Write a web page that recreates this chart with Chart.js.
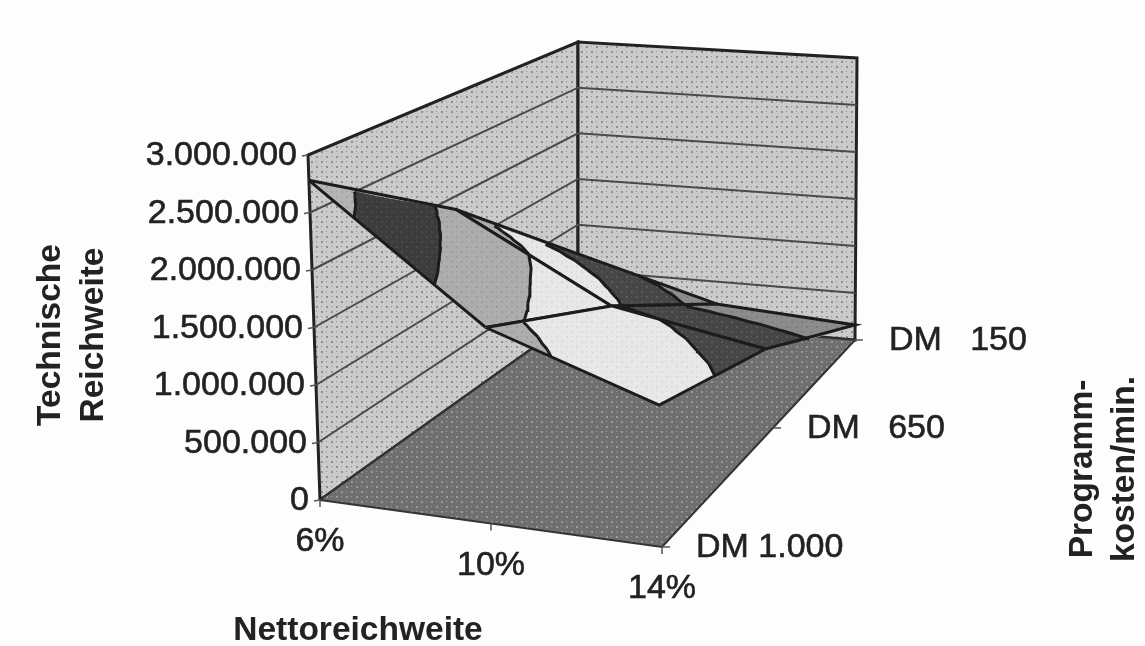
<!DOCTYPE html>
<html>
<head>
<meta charset="utf-8">
<title>Technische Reichweite</title>
<script src="https://cdn.jsdelivr.net/npm/chart.js@4/dist/chart.umd.min.js"></script>
<style>
  html, body { margin: 0; padding: 0; background: #fdfdfd; }
  #chart { display: block; filter: blur(0.6px); }
</style>
</head>
<body>
<canvas id="chart" width="1145" height="646"></canvas>
<script>
// values
const netReach = ['6%', '10%', '14%'];
const programCost = ['DM 1.000', 'DM   650', 'DM   150'];
const reachTicks = [0, 500000, 1000000, 1500000, 2000000, 2500000, 3000000];
const reachLabels = ['0', '500.000', '1.000.000', '1.500.000', '2.000.000', '2.500.000', '3.000.000'];
const reachAtDm1000 = [2780000, 1680000, 1200000];
const reachAtDm650 = [1870000, 1080000, 820000];
const reachAtDm150 = [680000, 260000, 160000];
const bandLimits = [0, 500000, 1000000, 1500000, 2000000, 2500000, 3000000];

const reachMax = 3000000;
const rows = [reachAtDm1000, reachAtDm650, reachAtDm150];
const rowDepth = [0, 0.54, 1];
const tickDepth = [0, 0.575, 1];
const colPos = [0, 0.5, 1];

// box corners on the page, [across][depth][height]
const box = {
  '000': [320, 500], '100': [662, 547], '010': [578, 316], '110': [855, 340],
  '001': [308, 155], '101': [655, 192], '011': [578, 42], '111': [857, 58]
};

function project(i, j, k) {
  let x = 0, y = 0;
  for (const a of [0, 1]) for (const b of [0, 1]) for (const c of [0, 1]) {
    const w = (a ? i : 1 - i) * (b ? j : 1 - j) * (c ? k : 1 - k);
    x += w * box['' + a + b + c][0];
    y += w * box['' + a + b + c][1];
  }
  return { x, y };
}

function halftone(base, dot) {
  const tile = document.createElement('canvas');
  tile.width = 10;
  tile.height = 10;
  const c = tile.getContext('2d');
  c.fillStyle = base;
  c.fillRect(0, 0, 10, 10);
  c.fillStyle = dot;
  c.fillRect(1, 1, 2, 2);
  c.fillRect(6, 6, 2, 2);
  c.fillRect(6, 1, 1, 1);
  c.fillRect(1, 6, 1, 1);
  return c.createPattern(tile, 'repeat');
}

const wallFill = halftone('#cbcbcb', '#8f8f8f');
const floorFill = halftone('#6f6f6f', '#9a9a9a');
const bandFill = [
  halftone('#8c8c8c', '#7c7c7c'),
  halftone('#464646', '#5c5c5c'),
  halftone('#e8e8e8', '#dadada'),
  halftone('#adadad', '#9c9c9c'),
  halftone('#3c3c3c', '#4c4c4c'),
  halftone('#b4b4b4', '#a2a2a2')
];

const datasets = [];

function polygon(points, fill, line, width) {
  datasets.push({
    data: [...points, points[0]],
    showLine: true, fill: 'shape', tension: 0, pointRadius: 0,
    backgroundColor: fill, borderColor: line, borderWidth: width
  });
}

function stroke(points, color, width) {
  datasets.push({
    data: points, showLine: true, fill: false, tension: 0, pointRadius: 0,
    borderColor: color, borderWidth: width, spanGaps: false
  });
}

// walls and floor
polygon([project(0, 0, 0), project(0, 1, 0), project(0, 1, 1), project(0, 0, 1)], wallFill, '#222', 3);
polygon([project(0, 1, 0), project(1, 1, 0), project(1, 1, 1), project(0, 1, 1)], wallFill, '#222', 3);
polygon([project(0, 0, 0), project(1, 0, 0), project(1, 1, 0), project(0, 1, 0)], floorFill, '#333', 2);

// gridlines and ticks
reachTicks.forEach(t => {
  const k = t / reachMax;
  if (t > 0 && t < reachMax) {
    stroke([project(0, 0, k), project(0, 1, k), project(1, 1, k)], '#4a4a4a', 2);
  }
  const p = project(0, 0, k);
  stroke([{ x: p.x - 6, y: p.y + 1 }, p], '#555', 1.5);
});
colPos.forEach(i => {
  const p = project(i, 0, 0);
  stroke([p, { x: p.x, y: p.y + 7 }], '#555', 1.5);
});
tickDepth.forEach(j => {
  const p = project(1, j, 0);
  stroke([p, { x: p.x + 8, y: p.y }], '#555', 1.5);
});

// surface, cut into the 500.000 bands, back to front
function clip(poly, level, keepAbove) {
  const out = [];
  poly.forEach((a, n) => {
    const b = poly[(n + 1) % poly.length];
    const aIn = keepAbove ? a.z >= level : a.z <= level;
    const bIn = keepAbove ? b.z >= level : b.z <= level;
    if (aIn) out.push(a);
    if (aIn !== bIn) {
      const t = (level - a.z) / (b.z - a.z);
      out.push({ i: a.i + t * (b.i - a.i), j: a.j + t * (b.j - a.j), z: level });
    }
  });
  return out;
}

const toPage = v => project(v.i, v.j, v.z / reachMax);
const SUB = 4;

for (let r = rows.length - 2; r >= 0; r--) {
  for (let c = 0; c < netReach.length - 1; c++) {
    const node = (u, v) => ({
      i: colPos[c] + u * (colPos[c + 1] - colPos[c]),
      j: rowDepth[r] + v * (rowDepth[r + 1] - rowDepth[r]),
      z: (1 - u) * (1 - v) * rows[r][c] + u * (1 - v) * rows[r][c + 1] +
         (1 - u) * v * rows[r + 1][c] + u * v * rows[r + 1][c + 1]
    });
    const contour = [];
    for (let a = 0; a < SUB; a++) for (let b = 0; b < SUB; b++) {
      const n00 = node(a / SUB, b / SUB), n10 = node((a + 1) / SUB, b / SUB);
      const n01 = node(a / SUB, (b + 1) / SUB), n11 = node((a + 1) / SUB, (b + 1) / SUB);
      [[n00, n10, n11], [n00, n11, n01]].forEach(tri => {
        for (let s = 0; s < bandLimits.length - 1; s++) {
          let piece = clip(tri, bandLimits[s], true);
          if (piece.length) piece = clip(piece, bandLimits[s + 1], false);
          if (piece.length > 2) polygon(piece.map(toPage), bandFill[s], bandFill[s], 1);
          const level = bandLimits[s + 1];
          const cross = [];
          tri.forEach((p, n) => {
            const q = tri[(n + 1) % 3];
            if ((p.z - level) * (q.z - level) < 0) {
              const t = (level - p.z) / (q.z - p.z);
              cross.push({ i: p.i + t * (q.i - p.i), j: p.j + t * (q.j - p.j), z: level });
            }
          });
          if (cross.length === 2) contour.push(toPage(cross[0]), toPage(cross[1]), { x: null, y: null });
        }
      });
    }
    stroke(contour, '#1c1c1c', 3);
    const corner = (cc, rr) => project(colPos[cc], rowDepth[rr], rows[rr][cc] / reachMax);
    stroke([corner(c, r), corner(c + 1, r), corner(c + 1, r + 1), corner(c, r + 1), corner(c, r)], '#1c1c1c', 3);
  }
}

const labelsPlugin = {
  id: 'labels',
  afterDraw(chart) {
    const { ctx, scales } = chart;
    const sx = v => scales.x.getPixelForValue(v);
    const sy = v => scales.y.getPixelForValue(v);
    const put = (text, x, y) => {
      ctx.fillText(text, x, y);
      ctx.strokeText(text, x, y);
    };
    ctx.save();
    ctx.fillStyle = '#222';
    ctx.strokeStyle = '#222';
    ctx.lineWidth = 0.6;
    ctx.textBaseline = 'middle';
    ctx.font = '34px "Liberation Sans", Arial, sans-serif';
    ctx.textAlign = 'right';
    reachTicks.forEach((t, n) => {
      const p = project(0, 0, t / reachMax);
      put(reachLabels[n], sx(p.x - 11), sy(p.y + 1));
    });
    ctx.textAlign = 'center';
    netReach.forEach((t, n) => {
      const p = project(colPos[n], 0, 0);
      put(t, sx(p.x), sy(p.y + 42));
    });
    ctx.textAlign = 'left';
    programCost.forEach((t, n) => {
      const p = project(1, tickDepth[n], 0);
      put(t, sx(p.x + 34), sy(p.y + 1));
    });
    ctx.font = 'bold 33.5px "Liberation Sans", Arial, sans-serif';
    ctx.textAlign = 'center';
    ctx.fillText('Nettoreichweite', sx(358), sy(631));
    const vertical = (text, x, y) => {
      ctx.save();
      ctx.translate(sx(x), sy(y));
      ctx.rotate(-Math.PI / 2);
      ctx.fillText(text, 0, 0);
      ctx.restore();
    };
    vertical('Technische', 51, 335);
    vertical('Reichweite', 94, 335);
    vertical('Programm-', 1083, 469);
    vertical('kosten/min.', 1125, 469);
    ctx.restore();
  }
};

// Chart.js paints the first dataset last, so hand them over reversed
datasets.reverse();

new Chart(document.getElementById('chart'), {
  type: 'scatter',
  data: { datasets },
  plugins: [labelsPlugin],
  options: {
    responsive: false,
    animation: false,
    events: [],
    layout: { padding: 0 },
    plugins: { legend: { display: false }, tooltip: { enabled: false } },
    scales: {
      x: { type: 'linear', min: 0, max: 1145, display: false },
      y: { type: 'linear', min: 0, max: 646, reverse: true, display: false }
    }
  }
});
</script>
</body>
</html>
